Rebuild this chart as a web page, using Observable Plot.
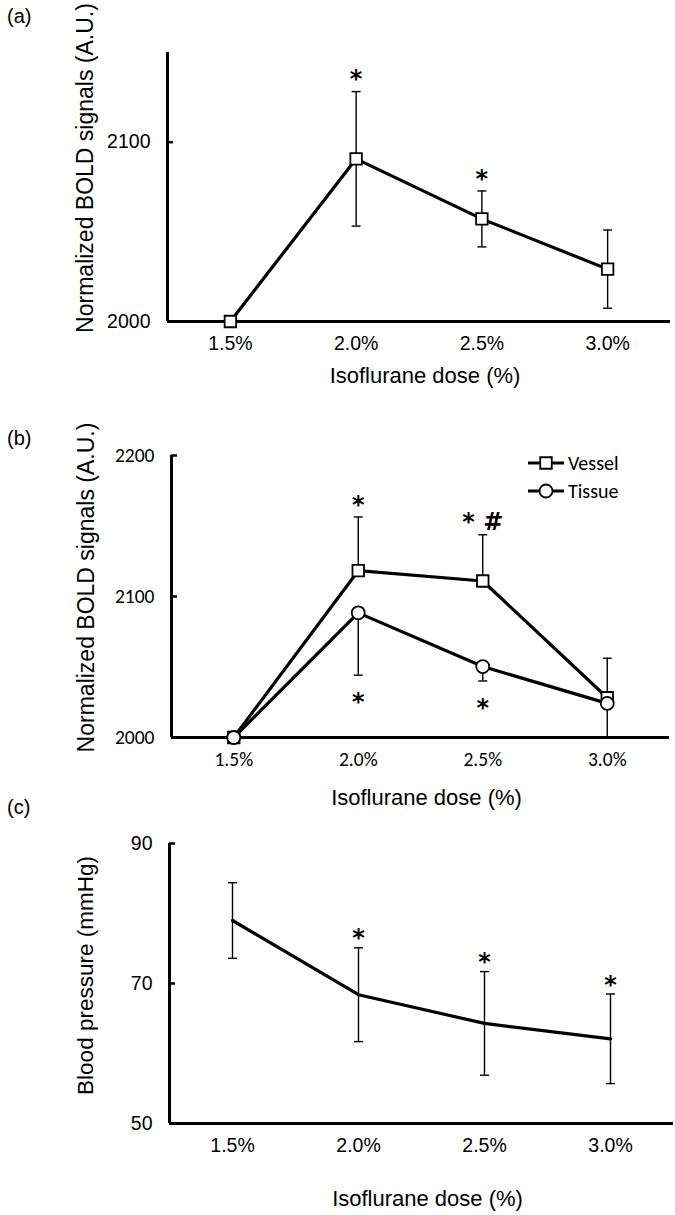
<!DOCTYPE html>
<html>
<head>
<meta charset="utf-8">
<script src="https://cdn.jsdelivr.net/npm/d3@7"></script>
<script src="https://cdn.jsdelivr.net/npm/@observablehq/plot@0.6"></script>
<style>
  html, body { margin: 0; padding: 0; background: #fff; }
  #root { position: relative; width: 675px; height: 1215px; overflow: hidden; background: #fff; }
  #root svg { position: absolute; left: 0; }
  .tag { position: absolute; left: 7px; font: 20px/22px "Liberation Sans", Arial, sans-serif; color: #000; }
</style>
</head>
<body>
<div id="root"></div>
<script>
// ---------------- data ----------------
const doses = [1.5, 2.0, 2.5, 3.0];
const doseLabels = ["1.5%", "2.0%", "2.5%", "3.0%"];

// (a) Normalized BOLD signals
const boldA = [2000, 2090.7, 2057.2, 2029.2];
const boldAErr = [0, 37.5, 15.6, 21.8];
const sigA = ["", "*", "*", ""];
const yTicksA = [2000, 2100];

// (b) Vessel vs Tissue
const seriesB = ["Vessel", "Tissue"];
const vesselB = [2000, 2118.3, 2111.0, 2028.2];
const vesselErr = [0, 38.1, 32.8, 28.0];
const tissueB = [2000, 2088.4, 2050.3, 2024.2];
const tissueErr = [0, 44.2, 10.2, 24.2];
const sigVessel = ["", "*", "* #", ""];
const sigTissue = ["", "*", "*", ""];
const yTicksB = [2000, 2100, 2200];

// (c) Blood pressure
const bp = [79.0, 68.4, 64.3, 62.1];
const bpErr = [5.4, 6.7, 7.4, 6.4];
const sigC = ["", "*", "*", "*"];
const yTicksC = [50, 70, 90];

const xLabel = "Isoflurane dose (%)";
const yLabelAB = "Normalized BOLD signals (A.U.)";
const yLabelC = "Blood pressure (mmHg)";
const panelTags = ["(a)", "(b)", "(c)"];

// ---------------- helpers ----------------
const ARIAL = "'Liberation Sans', Arial, Helvetica, sans-serif";
const CALIBRI = "Carlito, Calibri, Lato, 'Open Sans', sans-serif";
const STAR = "'DejaVu Sans', sans-serif";
const root = document.getElementById("root");

const cap = { draw(ctx, size) { const r = Math.sqrt(size / Math.PI); ctx.moveTo(-r, 0); ctx.lineTo(r, 0); } };

const table = (vals, errs, sigs) => doses.map((x, i) => ({ x, y: vals[i], e: errs[i], sig: sigs[i] }));
const tA = table(boldA, boldAErr, sigA);
const tV = table(vesselB, vesselErr, sigVessel);
const tT = table(tissueB, tissueErr, sigTissue);
const tC = table(bp, bpErr, sigC);

function frameMarks(yDomain, yTicks, font, fs, yLabel, yFs, yDx, yDy, titleDy) {
  return [
    Plot.axisX(doses, { tickSize: 0, tickPadding: 15, tickFormat: d => doseLabels[doses.indexOf(d)], label: null, fontFamily: font, fontSize: fs }),
    Plot.axisY(yTicks, { tickSize: -6, tickPadding: 23, strokeWidth: 2.5, tickFormat: d => String(d), label: null, fontFamily: font, fontSize: fs }),
    Plot.ruleY([yDomain[0]], { strokeWidth: 3, stroke: "black" }),
    Plot.ruleX([1.25], { strokeWidth: 3, stroke: "black" }),
    Plot.text([yLabel], { frameAnchor: "left", textAnchor: "middle", lineAnchor: "middle", rotate: -90, dx: yDx, dy: yDy, fontSize: yFs, fontFamily: ARIAL, fill: "black" }),
    Plot.text([xLabel], { frameAnchor: "bottom", textAnchor: "middle", lineAnchor: "middle", dx: 6, dy: titleDy, fontSize: 22, fontFamily: ARIAL, fill: "black" })
  ];
}

function makePlot(top, height, m, yDomain, marks) {
  const svg = Plot.plot({
    width: 675, height,
    marginTop: m[0], marginRight: m[1], marginBottom: m[2], marginLeft: m[3],
    style: { background: "transparent", color: "black", overflow: "visible" },
    x: { type: "linear", domain: [1.25, 3.25] },
    y: { type: "linear", domain: yDomain },
    marks
  });
  svg.style.top = top + "px";
  root.appendChild(svg);
  return svg;
}

const starStyle = { fontSize: 24, fontWeight: "bold", fontFamily: STAR, fill: "black" };

// ---------------- panel (a) ----------------
{
  const eb = tA.filter(d => d.e > 0);
  makePlot(0, 400, [52, 5, 79, 167], [2000, 2150], [
    ...frameMarks([2000, 2150], yTicksA, ARIAL, 19.5, yLabelAB, 23, -82, -19, 54),
    Plot.ruleX(eb, { x: "x", y1: d => d.y - d.e, y2: d => d.y + d.e, strokeWidth: 1.4, stroke: "black" }),
    Plot.dot(eb.flatMap(d => [{ x: d.x, y: d.y - d.e }, { x: d.x, y: d.y + d.e }]), { x: "x", y: "y", symbol: cap, r: 4.5, stroke: "black", strokeWidth: 1.4, fill: "none" }),
    Plot.line(tA, { x: "x", y: "y", stroke: "black", strokeWidth: 3.2 }),
    Plot.dot(tA, { x: "x", y: "y", symbol: "square", r: 6.5, fill: "white", stroke: "black", strokeWidth: 1.8 }),
    Plot.text(tA.filter(d => d.sig), { x: "x", y: d => d.y + d.e, text: "sig", dy: -12, ...starStyle })
  ]);
}

// ---------------- panel (b) ----------------
{
  const ev = tV.filter(d => d.e > 0);
  const et = tT.filter(d => d.e > 0);
  makePlot(400, 400, [55, 6, 63, 171], [2000, 2200], [
    ...frameMarks([2000, 2200], yTicksB, CALIBRI, 19.5, yLabelAB, 23, -85, -9, 60),
    Plot.ruleX(ev, { x: "x", y1: "y", y2: d => d.y + d.e, strokeWidth: 1.4, stroke: "black" }),
    Plot.dot(ev, { x: "x", y: d => d.y + d.e, symbol: cap, r: 4.5, stroke: "black", strokeWidth: 1.4, fill: "none" }),
    Plot.ruleX(et, { x: "x", y1: d => d.y - d.e, y2: "y", strokeWidth: 1.4, stroke: "black" }),
    Plot.dot(et, { x: "x", y: d => d.y - d.e, symbol: cap, r: 4.5, stroke: "black", strokeWidth: 1.4, fill: "none" }),
    Plot.line(tV, { x: "x", y: "y", stroke: "black", strokeWidth: 3.2 }),
    Plot.line(tT, { x: "x", y: "y", stroke: "black", strokeWidth: 3.2 }),
    Plot.dot(tV, { x: "x", y: "y", symbol: "square", r: 6.5, fill: "white", stroke: "black", strokeWidth: 1.8 }),
    Plot.dot(tT, { x: "x", y: "y", symbol: "circle", r: 6.5, fill: "white", stroke: "black", strokeWidth: 1.8 }),
    Plot.text(tV.filter(d => d.sig), { x: "x", y: d => d.y + d.e, text: "sig", dy: -12, ...starStyle }),
    Plot.text(tT.filter(d => d.sig), { x: "x", y: d => d.y - d.e, text: "sig", dy: 27, ...starStyle })
  ]);

  // legend
  const lg = d3.select(root).append("svg")
    .attr("width", 150).attr("height", 60)
    .style("top", "448px").style("left", "520px");
  const symbols = [d3.symbolSquare, d3.symbolCircle];
  const rows = lg.selectAll("g").data(seriesB).join("g")
    .attr("transform", (d, i) => `translate(0,${15 + i * 28})`);
  rows.append("line").attr("x1", 8).attr("x2", 44).attr("stroke", "black").attr("stroke-width", 3);
  rows.append("path").attr("transform", "translate(26,0)")
    .attr("d", (d, i) => d3.symbol(symbols[i], Math.PI * 6.5 * 6.5)())
    .attr("fill", "white").attr("stroke", "black").attr("stroke-width", 1.8);
  rows.append("text").attr("x", 48).attr("dy", "0.35em")
    .attr("font-family", CALIBRI).attr("font-size", 20).text(d => d);
}

// ---------------- panel (c) ----------------
{
  const eb = tC.filter(d => d.e > 0);
  makePlot(800, 415, [43, 2, 92, 169], [50, 90], [
    ...frameMarks([50, 90], yTicksC, ARIAL, 19.5, yLabelC, 22.5, -84, -8, 75),
    Plot.ruleX(eb, { x: "x", y1: d => d.y - d.e, y2: d => d.y + d.e, strokeWidth: 1.4, stroke: "black" }),
    Plot.dot(eb.flatMap(d => [{ x: d.x, y: d.y - d.e }, { x: d.x, y: d.y + d.e }]), { x: "x", y: "y", symbol: cap, r: 4.5, stroke: "black", strokeWidth: 1.4, fill: "none" }),
    Plot.line(tC, { x: "x", y: "y", stroke: "black", strokeWidth: 3.2 }),
    Plot.text(tC.filter(d => d.sig), { x: "x", y: d => d.y + d.e, text: "sig", dy: -9, ...starStyle })
  ]);
}

// panel tags
const tagTops = [5, 427, 796];
panelTags.forEach((t, i) => {
  const div = document.createElement("div");
  div.className = "tag";
  div.style.top = tagTops[i] + "px";
  div.textContent = t;
  root.appendChild(div);
});
</script>
</body>
</html>
